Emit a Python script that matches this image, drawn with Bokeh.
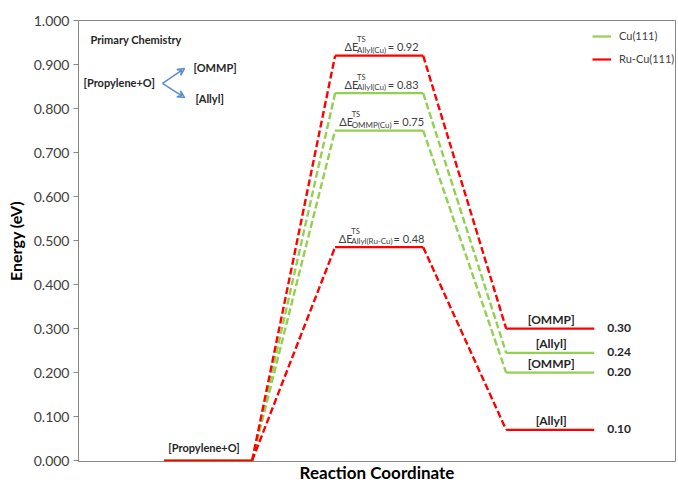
from bokeh.plotting import figure
from bokeh.models import (ColumnDataSource, Legend, LegendItem, Label, Arrow, VeeHead,
                          FixedTicker, NumeralTickFormatter, Range1d)
from bokeh.core.properties import value
from bokeh.embed import file_html
from bokeh.resources import INLINE

# ---------------- data ----------------
reactant_energy = 0.0
reactant_label = "[Propylene+O]"
cu_ts = [0.835, 0.75]
cu_prod = [0.245, 0.20]
rucu_ts = [0.92, 0.485]
rucu_prod = [0.30, 0.07]
cu_ts_sub = ["Allyl(Cu)", "OMMP(Cu)"]
cu_ts_val = ["0.83", "0.75"]
rucu_ts_sub = ["Allyl(Cu)", "Allyl(Ru-Cu)"]
rucu_ts_val = ["0.92", "0.48"]
cu_prod_lab = ["[Allyl]", "[OMMP]"]
rucu_prod_lab = ["[OMMP]", "[Allyl]"]
cu_prod_val = ["0.24", "0.20"]
rucu_prod_val = ["0.30", "0.10"]
series_names = ["Cu(111)", "Ru-Cu(111)"]
y_ticks = [0.0, 0.1, 0.2, 0.3, 0.4, 0.5, 0.6, 0.7, 0.8, 0.9, 1.0]
x_label = "Reaction Coordinate"
y_label = "Energy (eV)"

# stage positions on the reaction coordinate (start of each level)
stage_start = [1, 3, 5]
level_len = 1.03

GREEN = "#92D050"
RED = "#FF0000"
FONT = "Lato"
TXT = "#404040"
DARK = "#262626"

p = figure(width=678, height=485, output_backend="svg", toolbar_location=None,
           x_range=Range1d(0, 6.98), y_range=Range1d(-0.002, 1.0),
           min_border_left=78, min_border_right=3, min_border_top=20, min_border_bottom=21)
p.background_fill_color = "white"
p.border_fill_color = "white"
p.outline_line_color = "#868686"
p.outline_line_width = 1
p.xgrid.visible = False
p.ygrid.visible = False

xa = p.xaxis[0]
xa.ticker = FixedTicker(ticks=[])
xa.axis_line_color = None
xa.major_tick_line_color = None
xa.minor_tick_line_color = None
xa.major_tick_out = 0
xa.major_tick_in = 0
xa.major_label_standoff = 0
xa.axis_label = x_label
xa.axis_label_text_font = FONT
xa.axis_label_text_font_style = "bold"
xa.axis_label_text_font_size = "17px"
xa.axis_label_text_color = "black"
xa.axis_label_standoff = 0

ya = p.yaxis[0]
ya.ticker = FixedTicker(ticks=y_ticks)
ya.formatter = NumeralTickFormatter(format="0.000")
ya.major_label_text_font = FONT
ya.major_label_text_font_size = "14px"
ya.major_label_text_color = TXT
ya.axis_line_color = "#868686"
ya.major_tick_line_color = "#868686"
ya.major_tick_out = 5
ya.major_tick_in = 0
ya.minor_tick_line_color = None
ya.major_label_standoff = 4
ya.axis_label = y_label
ya.axis_label_text_font = FONT
ya.axis_label_text_font_style = "bold"
ya.axis_label_text_font_size = "16px"
ya.axis_label_text_color = "black"
ya.axis_label_standoff = 6


def draw_series(ts, prod, color):
    r0, t0, p0 = stage_start
    n = len(ts)
    # solid energy levels
    xs0 = [r0] + [t0] * n + [p0] * n
    xs1 = [r0 + level_len] + [t0 + level_len] * n + [p0 + level_len] * n
    ys = [reactant_energy] + list(ts) + list(prod)
    rs = p.segment(x0=xs0, y0=ys, x1=xs1, y1=ys, line_color=color, line_width=2.2)
    # dashed connectors
    dx0 = [r0 + level_len] * n + [t0 + level_len] * n
    dy0 = [reactant_energy] * n + list(ts)
    dx1 = [t0] * n + [p0] * n
    dy1 = list(ts) + list(prod)
    p.segment(x0=dx0, y0=dy0, x1=dx1, y1=dy1, line_color=color, line_width=2.4,
              line_dash="7 3")
    return rs


r_cu = draw_series(cu_ts, cu_prod, GREEN)
r_ru = draw_series(rucu_ts, rucu_prod, RED)

# ----- TS labels (ΔE^TS_sub = value) -----
CHAR_W = {"A": 5.3, "l": 1.9, "y": 3.7, "(": 2.5, ")": 2.5, "C": 5.3, "u": 4.1,
          "O": 6.2, "M": 7.2, "P": 4.9, "R": 4.9, "-": 2.7}


def est_width(s):
    return sum(CHAR_W.get(c, 4.2) for c in s)


ts_all = rucu_ts + cu_ts
sub_all = rucu_ts_sub + cu_ts_sub
val_all = rucu_ts_val + cu_ts_val
t_center = stage_start[1] + level_len / 2
de_w = 12.5
sub_w = [est_width(s) + 1.5 for s in sub_all]
eq_w = 30.0
starts = [-(de_w + w + eq_w) / 2 + 2 for w in sub_w]
src = ColumnDataSource(dict(
    x=[t_center] * len(ts_all), y=ts_all,
    de=["ΔE"] * len(ts_all), ts=["TS"] * len(ts_all), sub=sub_all,
    eq=["= " + v for v in val_all],
    off_de=starts,
    off_sup=[s + de_w for s in starts],
    off_eq=[s + de_w + w for s, w in zip(starts, sub_w)],
))
p.text(x="x", y="y", text="de", x_offset="off_de", y_offset=-9, source=src,
       text_font=value(FONT), text_font_size="11px", text_color=TXT,
       text_align="left", text_baseline="alphabetic")
p.text(x="x", y="y", text="ts", x_offset="off_sup", y_offset=-16, source=src,
       text_font=value(FONT), text_font_size="7.5px", text_color=TXT,
       text_align="left", text_baseline="alphabetic")
p.text(x="x", y="y", text="sub", x_offset="off_sup", y_offset=-6, source=src,
       text_font=value(FONT), text_font_size="8px", text_color=TXT,
       text_align="left", text_baseline="alphabetic")
p.text(x="x", y="y", text="eq", x_offset="off_eq", y_offset=-9, source=src,
       text_font=value(FONT), text_font_size="11px", text_color=TXT,
       text_align="left", text_baseline="alphabetic")

# ----- product labels -----
prod_all = rucu_prod + cu_prod
prod_lab_all = rucu_prod_lab + cu_prod_lab
prod_val_all = rucu_prod_val + cu_prod_val
p_center = stage_start[2] + level_len / 2
p_end = stage_start[2] + level_len
psrc = ColumnDataSource(dict(xc=[p_center] * 4, xe=[p_end] * 4, y=prod_all,
                             lab=prod_lab_all, val=prod_val_all))
p.text(x="xc", y="y", text="lab", source=psrc, x_offset=1, y_offset=-9,
       text_font=value(FONT), text_font_style="bold", text_font_size="12px",
       text_color=DARK, text_align="center", text_baseline="alphabetic")
p.text(x="xe", y="y", text="val", source=psrc, x_offset=13, y_offset=-1,
       text_font=value(FONT), text_font_style="bold", text_font_size="12px",
       text_color=DARK, text_align="left", text_baseline="middle")

# reactant label
p.text(x=[stage_start[0] + level_len / 2], y=[reactant_energy], text=[reactant_label],
       x_offset=-4, y_offset=-13, text_font=value(FONT), text_font_style="bold",
       text_font_size="11px", text_color=DARK, text_align="center",
       text_baseline="alphabetic")

# ----- top-left scheme -----
scheme = [("Primary Chemistry", 0.14, 0.956), ("[Propylene+O]", 0.058, 0.859),
          ("[OMMP]", 1.345, 0.893), ("[Allyl]", 1.368, 0.823)]
for t, x, y in scheme:
    p.add_layout(Label(x=x, y=y, text=t, text_font=FONT, text_font_style="bold",
                       text_font_size="11px", text_color=DARK, text_baseline="middle",
                       text_align="left"))
for ye in (0.891, 0.825):
    p.add_layout(Arrow(end=VeeHead(size=7, line_color="#5B8BD0", line_width=1.5,
                                   fill_color=None),
                       x_start=0.982, y_start=0.857, x_end=1.24, y_end=ye,
                       line_color="#5B8BD0", line_width=1.5))

legend = Legend(items=[LegendItem(label=series_names[0], renderers=[r_cu]),
                       LegendItem(label=series_names[1], renderers=[r_ru])],
                location=(514, 396), border_line_color=None, background_fill_alpha=0,
                padding=0, margin=0, spacing=10, glyph_width=19, glyph_height=12,
                label_height=12, label_standoff=8, label_text_font=FONT,
                label_text_font_size="11px", label_text_color=TXT)
p.add_layout(legend)

open("out.html", "w").write(file_html(p, INLINE))
